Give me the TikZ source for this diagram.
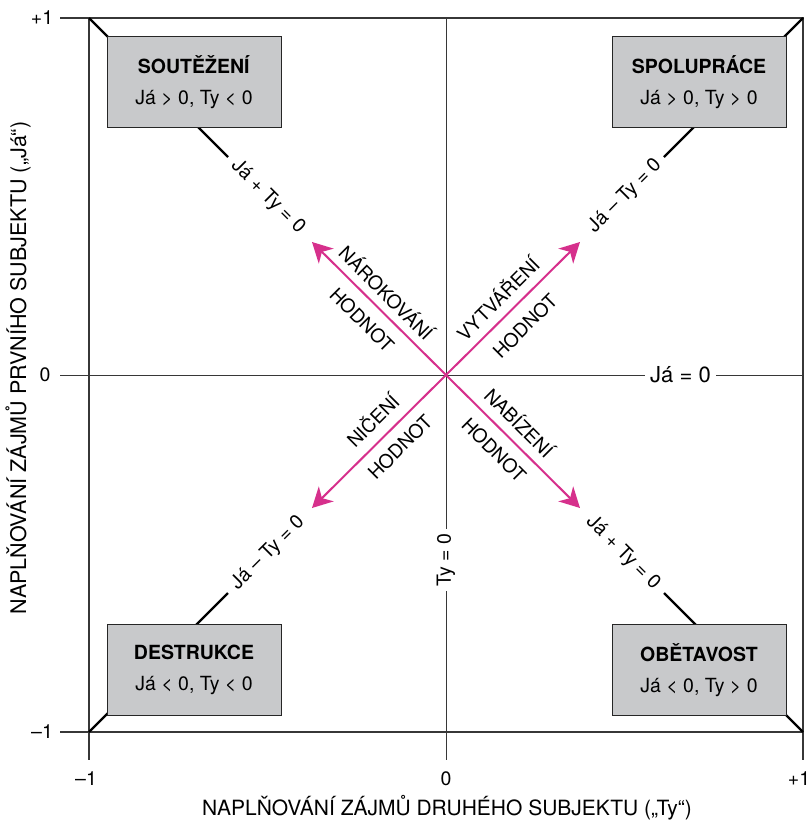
\documentclass[tikz,border=0pt]{standalone}
\usepackage{fontspec}
\setmainfont{TeX Gyre Heros}
\usetikzlibrary{arrows.meta}
\definecolor{boxgray}{RGB}{200,201,203}
\definecolor{arrowpink}{RGB}{214,48,140}
\definecolor{framegray}{RGB}{55,55,55}
\begin{document}
\begin{tikzpicture}[x=1pt,y=-1pt,
  every node/.style={font=\fontsize{19.5}{23}\selectfont, inner sep=0pt},
  frameline/.style={draw=framegray, line width=1.4pt},
  axisline/.style={draw=framegray, line width=1pt},
  diagline/.style={draw=black, line width=2.4pt},
  statebox/.style={draw=black!85, line width=1pt, fill=boxgray,
    minimum width=174pt, minimum height=91pt, align=center,
    font=\fontsize{19.5}{31}\selectfont},
  valuearrow/.style={draw=arrowpink, line width=2pt,
    -{Stealth[length=20pt,width=21pt,inset=6pt]}},
  arrowlabel/.style={font=\fontsize{19}{22}\selectfont},
  gaplabel/.style={fill=white, inner xsep=5pt, inner ysep=2pt},
  axistitle/.style={font=\fontsize{21}{24}\selectfont},
]
\useasboundingbox (0,0) rectangle (811,823);

% reference points
\coordinate (O) at (446,375);
\coordinate (TL) at (89,18);
\coordinate (TR) at (803,18);
\coordinate (BL) at (89,732);
\coordinate (BR) at (803,732);

% axes through the origin
\draw[axisline] (60,375) -- (BR |- O);
\draw[axisline] (O |- TL) -- (446,760);

% frame with outward ticks
\draw[frameline] (60,18) -- (TR) -- (803,760);
\draw[frameline] (TL) -- (89,760);
\draw[frameline] (60,732) -- (BR);

% axis labels that interrupt the axes
\node[gaplabel, font=\fontsize{22}{24}\selectfont] (ja0) at (680.5,375) {Já = 0};
\node[gaplabel, rotate=90] (ty0) at (446,560) {Ty = 0};

% diagonals from the corners
\coordinate (nwEnd) at (228,157);
\coordinate (neEnd) at (664,157);
\coordinate (swEnd) at (228,593);
\coordinate (seEnd) at (664,593);
\draw[diagline] (TL) -- (nwEnd);
\draw[diagline] (TR) -- (neEnd);
\draw[diagline] (BL) -- (swEnd);
\draw[diagline] (BR) -- (seEnd);

% quadrant boxes
\node[statebox] (soutez) at (194,82) {\textbf{SOUTĚŽENÍ}\\Já > 0, Ty < 0};
\node[statebox] (spoluprace) at (699,82) {\textbf{SPOLUPRÁCE}\\Já > 0, Ty > 0};
\node[statebox] (destrukce) at (194,670) {\textbf{DESTRUKCE}\\Já < 0, Ty < 0};
\node[statebox] (obetavost) at (699,670) {\textbf{OBĚTAVOST}\\Já < 0, Ty > 0};

% diagonal line labels
\node[rotate=-45] (nwLine) at (268,197) {Já + Ty = 0};
\node[rotate=45] (neLine) at (625,196) {Já – Ty = 0};
\node[rotate=45] (swLine) at (268,553) {Já – Ty = 0};
\node[rotate=-45] (seLine) at (623,553) {Já + Ty = 0};

% value arrows
\coordinate (nwTip) at (312,242);
\coordinate (neTip) at (580,242);
\coordinate (swTip) at (312,508);
\coordinate (seTip) at (580,508);
\draw[valuearrow] (O) -- (nwTip);
\draw[valuearrow] (O) -- (neTip);
\draw[valuearrow] (O) -- (swTip);
\draw[valuearrow] (O) -- (seTip);

% arrow labels
\node[arrowlabel, rotate=-45] (narok) at (387,292) {NÁROKOVÁNÍ};
\node[arrowlabel, rotate=-45] (narokH) at (362,320) {HODNOT};
\node[arrowlabel, rotate=45] (vytv) at (497,298) {VYTVÁŘENÍ};
\node[arrowlabel, rotate=45] (vytvH) at (525,326) {HODNOT};
\node[arrowlabel, rotate=45] (nic) at (372,420) {NIČENÍ};
\node[arrowlabel, rotate=45] (nicH) at (400,447) {HODNOT};
\node[arrowlabel, rotate=-45] (nab) at (520,422) {NABÍZENÍ};
\node[arrowlabel, rotate=-45] (nabH) at (494,450) {HODNOT};

% tick labels
\node (yp1) at (42,18) {+1};
\node (y0) at (45,375) {0};
\node (ym1) at (42,732) {–1};
\node (xm1) at (86,779) {–1};
\node (x0) at (446,779) {0};
\node (xp1) at (799,779) {+1};

% axis titles
\node[axistitle] (xtitle) at (447,808) {NAPLŇOVÁNÍ ZÁJMŮ DRUHÉHO SUBJEKTU („Ty“)};
\node[axistitle, font=\fontsize{21.5}{24}\selectfont, rotate=90] (ytitle) at (18,368) {NAPLŇOVÁNÍ ZÁJMŮ PRVNÍHO SUBJEKTU („Já“)};
\end{tikzpicture}
\end{document}
